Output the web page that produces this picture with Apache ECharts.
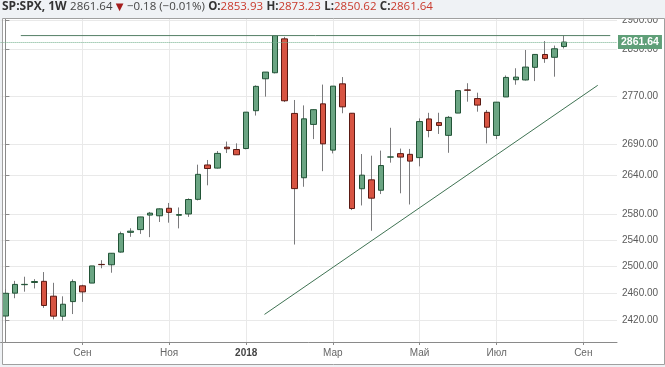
<!DOCTYPE html>
<html><head><meta charset="utf-8">
<script src="https://cdn.jsdelivr.net/npm/echarts@6/dist/echarts.min.js"></script>
<style>html,body{margin:0;padding:0;background:#eff2f5}#c{width:665px;height:367px}</style>
</head><body><div id="c"></div>
<script>
// Weekly SP:SPX candles (week start dates), plus empty future slots on the right
const weeks = [
 '2017-07-10','2017-07-17','2017-07-24','2017-07-31','2017-08-07','2017-08-14','2017-08-21','2017-08-28',
 '2017-09-04','2017-09-11','2017-09-18','2017-09-25','2017-10-02','2017-10-09','2017-10-16','2017-10-23',
 '2017-10-30','2017-11-06','2017-11-13','2017-11-20','2017-11-27','2017-12-04','2017-12-11','2017-12-18',
 '2017-12-25','2018-01-01','2018-01-08','2018-01-15','2018-01-22','2018-01-29','2018-02-05','2018-02-12',
 '2018-02-19','2018-02-26','2018-03-05','2018-03-12','2018-03-19','2018-03-26','2018-04-02','2018-04-09',
 '2018-04-16','2018-04-23','2018-04-30','2018-05-07','2018-05-14','2018-05-21','2018-05-28','2018-06-04',
 '2018-06-11','2018-06-18','2018-06-25','2018-07-02','2018-07-09','2018-07-16','2018-07-23','2018-07-30',
 '2018-08-06','2018-08-13','2018-08-20','2018-08-27','2018-09-03','2018-09-10','2018-09-17','2018-09-24'
];
const opens  = [2425.8,2459.5,2472.1,2475.4,2477.1,2455.0,2425.5,2447.0,2470.4,2474.5,2502.5,2502.0,2521.2,2551.4,2555.6,2578.1,
                2577.0,2588.7,2577.8,2579.8,2602.7,2657.2,2652.2,2685.9,2682.1,2683.7,2745.6,2799.0,2809.2,2867.2,2741.1,2636.8,
                2723.0,2757.0,2681.1,2790.5,2741.4,2619.4,2633.5,2617.0,2669.9,2675.4,2674.3,2669.0,2732.0,2726.0,2705.1,2741.7,
                2780.2,2765.8,2742.9,2705.0,2768.5,2797.4,2797.0,2818.4,2840.3,2835.5,2853.93];
const highs  = [2465.7,2477.8,2484.0,2480.4,2491.0,2474.9,2454.8,2480.0,2472.0,2500.2,2508.9,2519.4,2552.5,2557.7,2575.4,2583.0,
                2588.5,2597.0,2590.0,2604.2,2657.7,2665.2,2679.6,2695.0,2692.1,2743.2,2787.9,2810.3,2872.9,2870.6,2763.4,2754.4,
                2747.8,2789.2,2786.6,2801.9,2741.4,2674.8,2672.1,2680.3,2717.5,2683.6,2683.0,2732.9,2742.1,2742.2,2736.9,2779.9,
                2791.5,2775.6,2746.8,2760.0,2804.6,2816.8,2848.0,2841.0,2863.4,2855.6,2873.23];
const lows   = [2415.7,2452.0,2461.7,2466.5,2437.8,2421.0,2419.0,2428.7,2446.6,2474.5,2496.7,2490.0,2520.4,2544.5,2549.0,2544.0,
                2567.4,2566.3,2557.5,2575.3,2601.0,2624.8,2651.5,2676.4,2673.6,2682.4,2737.6,2769.0,2808.1,2760.0,2532.7,2622.5,
                2699.0,2647.3,2675.8,2741.4,2585.9,2593.1,2553.8,2611.0,2660.9,2612.2,2594.6,2655.0,2701.9,2707.4,2676.8,2741.7,
                2760.6,2744.0,2692.0,2699.0,2768.5,2789.0,2796.0,2795.1,2826.0,2802.5,2850.62];
const closes = [2459.3,2472.5,2472.6,2476.8,2441.3,2425.6,2443.1,2476.6,2461.4,2500.2,2502.2,2519.4,2549.3,2553.2,2575.2,2581.1,
                2587.8,2582.3,2578.9,2602.4,2642.2,2651.5,2675.8,2683.3,2673.6,2743.2,2786.2,2810.3,2872.9,2762.1,2619.6,2732.2,
                2747.3,2691.3,2786.6,2752.0,2588.3,2640.9,2604.5,2656.3,2670.1,2669.9,2663.4,2727.7,2713.0,2721.3,2734.6,2779.0,
                2779.7,2754.9,2718.4,2759.8,2801.3,2801.8,2818.8,2840.4,2833.3,2850.1,2861.64];
const monthLabels = {'2017-09-04':'Сен','2017-11-06':'Ноя','2018-01-01':'2018','2018-03-05':'Мар','2018-05-07':'Май','2018-07-02':'Июл','2018-09-03':'Сен'};
const priceTicks = [2420,2460,2500,2540,2580,2640,2690,2770,2850,2900];
const lastPrice = 2861.64;
// Drawn tools (in week-index / price units)
const resistanceLine = [[1.6, 2872.87],[62.8, 2872.87]];
const trendLine = [[26.9, 2428.2],[61.5, 2788.0]];

const isMonth = (i, v) => monthLabels[v] !== undefined;
const wickData = opens.map((o,i)=>[o, closes[i], lows[i], highs[i]]);
const bodyData = opens.map((o,i)=>[o, closes[i], Math.min(o,closes[i]), Math.max(o,closes[i])]);

const chart = echarts.init(document.getElementById('c'), null, {renderer:'canvas'});
const axisFont = 'Liberation Sans, Arial, sans-serif';
chart.setOption({
  animation:false,
  backgroundColor:'#eff2f5',
  grid:{left:0.6, right:48, top:19, bottom:25, containLabel:false},
  xAxis:[{
    type:'category', data:weeks, boundaryGap:true,
    axisLine:{lineStyle:{color:'#8a8a8a', width:1}},
    axisTick:{show:true, interval:isMonth, alignWithLabel:true, length:3, lineStyle:{color:'#8a8a8a'}},
    axisLabel:{interval:isMonth, formatter:v=> v==='2018-01-01' ? '{y|2018}' : (monthLabels[v]||''),
      color:'#666', fontSize:10, fontFamily:axisFont, margin:6,
      rich:{y:{fontWeight:'bold', color:'#444', fontSize:10, fontFamily:axisFont}}},
    splitLine:{show:true, interval:isMonth, alignWithLabel:true, lineStyle:{color:'#e9e9e9', width:1}}
  },{
    type:'value', min:-0.5, max:63.5, show:false
  }],
  yAxis:{
    type:'log', logBase:10, position:'right', min:2388.1, max:2901.75,
    axisLine:{show:true, lineStyle:{color:'#8a8a8a', width:1}},
    axisTick:{show:true, length:4, customValues:priceTicks, lineStyle:{color:'#8a8a8a'}},
    axisLabel:{customValues:priceTicks, formatter:v=>Number(v).toFixed(2), color:'#5a5a5a', fontSize:10, fontFamily:axisFont, margin:5},
    splitLine:{show:true, lineStyle:{color:'#e9e9e9', width:1}}
  },
  series:[
    {type:'candlestick', name:'wick', data:wickData, barWidth:1, z:2,
     itemStyle:{color:'#7a7a7c', color0:'#7a7a7c', borderColor:'#7a7a7c', borderColor0:'#7a7a7c', borderWidth:1}},
    {type:'candlestick', name:'body', data:bodyData, barWidth:6, z:3,
     itemStyle:{color:'#6ba583', color0:'#d75442', borderColor:'#225437', borderColor0:'#5b1a13', borderWidth:1},
     markLine:{silent:true, symbol:['none','none'], animation:false,
       lineStyle:{type:'dotted', color:'#6fae8a', width:1},
       label:{position:'end', distance:1, formatter:()=>lastPrice.toFixed(2), color:'#fff', fontWeight:'bold',
              fontSize:10.5, fontFamily:axisFont, backgroundColor:'#5f9f78', padding:[2,3,1,3]},
       data:[{yAxis:lastPrice}]}},
    {type:'line', xAxisIndex:1, data:resistanceLine, symbol:'none', z:4,
     lineStyle:{color:'#557f66', width:1}},
    {type:'line', xAxisIndex:1, data:trendLine, symbol:'none', z:4,
     lineStyle:{color:'#3f7353', width:1}}
  ],
  graphic:[
    {type:'rect', z:-100, shape:{x:2.5, y:18.5, width:662, height:346}, style:{fill:'#ffffff'}},
    {type:'rect', z:50, shape:{x:0, y:0, width:665, height:18.5}, style:{fill:'#eff2f5'}},
    {type:'rect', z:60, shape:{x:2.5, y:18.5, width:662, height:346}, style:{fill:null, stroke:'#a0a0a0', lineWidth:1}},
    {type:'text', z:70, left:2, top:1, style:{
      text:'{b|SP:SPX, 1W} {n|2861.64} {d|▼} {n|−0.18 (−0.01%)} {k|O:}{r|2853.93} {k|H:}{r|2873.23} {k|L:}{r|2850.62} {k|C:}{r|2861.64}',
      rich:{
        b:{fontFamily:'Open Sans', fontWeight:'bold', fontSize:12, fill:'#333'},
        n:{fontFamily:'Open Sans', fontSize:11.5, fill:'#444'},
        d:{fontFamily:'DejaVu Sans', fontSize:10, fill:'#a51d1d'},
        k:{fontFamily:'Open Sans', fontWeight:'bold', fontSize:11.5, fill:'#333'},
        r:{fontFamily:'Open Sans', fontSize:11.5, fill:'#c9392c'}
      }}}
  ]
});
</script></body></html>
